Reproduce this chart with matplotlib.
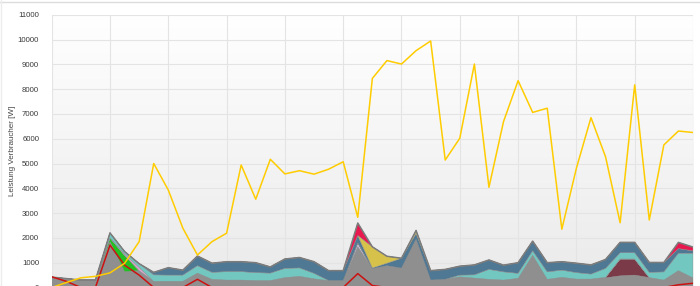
import numpy as np
import matplotlib
matplotlib.use("Agg")
import matplotlib.pyplot as plt
from matplotlib.lines import Line2D
from matplotlib.colors import LinearSegmentedColormap

# ---- data ----
idx = list(range(45))
yellow = [0, 200, 390, 450, 590, 975, 1850, 5000, 3930, 2390, 1310, 1850, 2190,
          4940, 3560, 5170, 4580, 4710, 4570, 4770, 5070, 2830, 8430, 9150, 9010,
          9550, 9940, 5140, 6020, 9010, 4040, 6690, 8340, 7060, 7230, 2350, 4810,
          6850, 5270, 2610, 8170, 2720, 5750, 6310, 6250]
red_line = [430, 250, 0, 0, 1710, 900, 500, 0, 0, 0, 330, 0, 0, 0, 0, 0, 0, 0, 0,
            0, 0, 560, 80, 0, 0, 0, 0, 0, 0, 0, 0, 0, 0, 0, 0, 0, 0, 0, 0, 0, 0,
            0, 0, 110, 170]
gray = [420, 360, 300, 300, 1850, 640, 680, 250, 250, 250, 580, 330, 300, 300, 280,
        280, 400, 450, 350, 280, 280, 1650, 760, 880, 780, 1950, 300, 330, 430, 380,
        330, 300, 370, 1300, 330, 410, 340, 340, 390, 470, 500, 400, 300, 680, 390]
maroon = [0]*38 + [20, 680, 650, 0, 0, 0, 0]
green = [0, 0, 0, 0, 150, 660] + [0]*39
lavender = [0]*21 + [150] + [0]*23
pink = [0, 0, 0, 0, 0, 50, 130] + [0]*38
teal = [0, 0, 0, 0, 200, 100, 150, 260, 250, 250, 300, 280, 340, 340, 320, 300, 370,
        340, 220, 0, 0, 0, 0, 0, 0, 0, 0, 0, 70, 130, 400, 330, 200, 180, 300, 290,
        260, 200, 360, 250, 250, 210, 330, 700, 990]
steel = [0, 0, 0, 0, 0, 0, 0, 100, 300, 200, 390, 370, 400, 400, 400, 250, 380, 420,
         470, 400, 400, 300, 30, 100, 400, 230, 380, 400, 360, 400, 380, 270, 430,
         390, 370, 340, 380, 370, 360, 420, 420, 400, 380, 190, 100]
olive = [0]*22 + [850, 280, 0, 120] + [0]*19
crimson = [0]*21 + [500] + [0]*21 + [250, 150]

y_ticks = list(range(0, 11001, 1000))
y_label = "Leistung Verbraucher [W]"

layers = [gray, maroon, green, lavender, pink, teal, steel, olive, crimson]
layer_colors = ['#8f8f8f', '#7b3a48', '#22c022', '#c9c2e0', '#dba8cf',
                '#72c7c0', '#4f7894', '#d6c24a', '#e8194f']

W, H = 700, 286
fig = plt.figure(figsize=(W/100, H/100), dpi=100)
fig.patch.set_facecolor('white')
left_px, right_px, top_px, bottom_px = 51.7, 693.0, 14.7, 287.5
ax = fig.add_axes([left_px/W, 1 - bottom_px/H, (right_px-left_px)/W,
                   (bottom_px-top_px)/H])

# gradient background
cmap = LinearSegmentedColormap.from_list('bg', ['#ffffff', '#eaeaea'])
grad = np.linspace(0, 1, 256)[:, None]
ax.imshow(grad, cmap=cmap, aspect='auto', extent=[0, 1, 0, 1],
          transform=ax.transAxes, zorder=0)

x = np.array(idx)
ax.stackplot(x, *layers, colors=layer_colors, linewidth=0.3,
             edgecolors=layer_colors, zorder=2)
total = np.sum(np.array(layers), axis=0)
ax.plot(x, total, color='#7c7c7c', lw=1.1, zorder=3)
ax.plot(x, red_line, color='#cc1111', lw=1.1, zorder=4)
ax.plot(x, yellow, color='#ffcc00', lw=1.1, zorder=5)

ax.set_xlim(0, (right_px-left_px)/14.78)
ax.set_ylim(0, 11000)
ax.set_yticks(y_ticks)
ax.set_xticks(range(0, 45, 4))
ax.set_xticklabels([])
ax.tick_params(axis='x', length=0)
ax.tick_params(axis='y', length=0, pad=9, labelsize=5.6, colors='#3a3a3a')
for lbl in ax.get_yticklabels():
    lbl.set_family('Liberation Sans')
ax.grid(True, color='#e4e4e4', lw=0.8)
ax.set_axisbelow(True)
for s in ax.spines.values():
    s.set_visible(False)
ax.set_ylabel(y_label, fontsize=5.8, color='#444444', family='Liberation Sans')
ax.yaxis.set_label_coords((15.5 - left_px)/(right_px-left_px), 0.5)

fig.add_artist(Line2D([0, 1], [1 - 1.5/H]*2, color='#dcdcdc', lw=1))
fig.add_artist(Line2D([0.5/W]*2, [0, 1], color='#ececec', lw=1))

fig.savefig('out.png', dpi=100)
